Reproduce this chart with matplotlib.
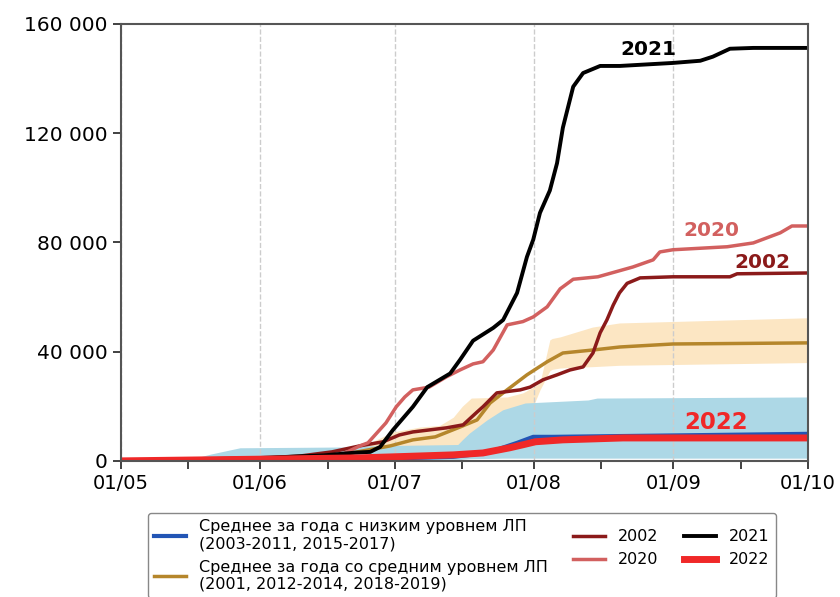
import matplotlib
matplotlib.use('Agg')
import matplotlib.pyplot as plt
from matplotlib.ticker import FuncFormatter

# days counted from 01/05
d2021 = [0, 30, 45, 52, 55.5, 57.7, 60.6, 65, 68.2, 73.3, 75.5, 78.4, 82.9, 85.1, 88.2, 90.4,
         91.8, 93.3, 95.5, 97.1, 98.4, 100.7, 102.9, 106.7, 111.1, 122.9, 129, 131.8, 135.6, 140.8, 153]
v2021 = [0, 1000, 2000, 3000, 3300, 5100, 11400, 19800, 27000, 32000, 37000, 44000, 48700, 51600, 61500, 74700,
         81000, 90800, 99000, 109000, 122000, 137000, 142000, 144600, 144600, 145700, 146500, 148000, 150900, 151200, 151200]

d2020 = [0, 25, 40, 49, 53.2, 55, 59, 61.3, 63.2, 65, 68.6, 72.5, 75.5, 78.4, 80.6, 82.9, 86, 89.5,
         91.8, 94.9, 97.8, 100.7, 106.2, 114, 118.5, 120, 122.9, 135, 140.8, 146.8, 149.4, 153]
v2020 = [0, 500, 1500, 2200, 5500, 6600, 13900, 19800, 23400, 26000, 27000, 30800, 33300, 35500, 36300, 40600, 49800, 51000,
         52700, 56400, 63000, 66500, 67400, 71000, 73600, 76500, 77300, 78400, 79800, 83500, 86000, 86000]

d2002 = [0, 20, 30, 40, 47, 53.2, 58.4, 62, 65, 72.5, 76.2, 79.3, 80.6, 83.7, 88.9, 91.1, 94, 97.1, 100,
         102.9, 105.1, 106.7, 108.2, 109.6, 111, 112.7, 115.6, 122.9, 135.6, 137.2, 153]
v2002 = [0, 300, 800, 1800, 3300, 5500, 7000, 9500, 10600, 12100, 13200, 17900, 19800, 24900, 26000, 27000, 29700, 31500, 33300,
         34400, 39500, 46900, 51600, 57000, 61500, 65000, 67000, 67400, 67400, 68500, 68800]

d2022 = [0, 30, 53, 61, 74, 80.6, 86.6, 89.5, 92.3, 98.4, 111.8, 153]
v2022 = [0, 600, 1100, 1500, 2200, 2900, 4800, 5900, 7000, 7700, 8400, 8400]

# mean of low-fire years and its range
d_low = [0, 30, 53, 61, 74, 81.5, 88.2, 91.8, 96.3, 153]
v_low = [0, 300, 600, 900, 1500, 2900, 6600, 8800, 8800, 9900]
d_low_band = [0, 14, 20, 26.5, 51, 55, 75, 76, 77.6, 81.5, 85, 90, 104, 106, 153]
lo_low_band = [0, 0, 0, 0, 0, 0, 300, 600, 800, 900, 1000, 1000, 1000, 1000, 1000]
hi_low_band = [0, 0, 2500, 4800, 5100, 5500, 6000, 7700, 10200, 15000, 18700, 21200, 22300, 23000, 23400]

# mean of medium-fire years and its range
d_mid = [0, 20, 30, 40, 50, 55, 60, 65, 70, 75.5, 79.3, 82.2, 85.1, 90.4, 94.9, 98.4, 105.1, 111.1, 122.9, 153]
v_mid = [0, 200, 600, 1300, 2500, 4000, 5500, 7700, 8800, 12400, 15000, 21200, 24900, 31500, 36300, 39500, 40600, 41700, 42800, 43200]
d_mid_band = [0, 40, 45, 50, 53, 60.6, 66.6, 71, 74, 76, 78, 86, 89.5, 91.8, 93.3, 95.5, 96, 97.8, 100, 105, 111, 153]
lo_mid_band = [0, 0, 0, 0, 0, 500, 1000, 1500, 2000, 3000, 4000, 10000, 15000, 20000, 26000, 33000, 33500, 34000, 34200, 34500, 35000, 36000]
hi_mid_band = [0, 300, 1000, 3000, 4800, 10600, 12400, 13000, 16000, 20000, 23000, 23400, 24900, 27000, 28600, 44300, 44800, 45400, 46500, 49000, 50500, 52400]

month_days = [0, 31, 61, 92, 123, 153]
month_labels = ['01/05', '01/06', '01/07', '01/08', '01/09', '01/10']
mid_days = [15, 46, 76, 107, 138]

fig = plt.figure(figsize=(8.4, 5.97), dpi=100)
ax = fig.add_axes([0.144, 0.228, 0.818, 0.732])

ax.fill_between(d_mid_band, lo_mid_band, hi_mid_band, color='#f9c87a', alpha=0.45, lw=0)
ax.fill_between(d_low_band, lo_low_band, hi_low_band, color='#add8e6', lw=0)

ax.plot(d_low, v_low, color='#2255b5', lw=3,
        label='Среднее за года с низким уровнем ЛП\n(2003-2011, 2015-2017)')
ax.plot(d_mid, v_mid, color='#b5862b', lw=2.5,
        label='Среднее за года со средним уровнем ЛП\n(2001, 2012-2014, 2018-2019)')
ax.plot(d2002, v2002, color='#8b1a1a', lw=2.5, label='2002')
ax.plot(d2020, v2020, color='#d2605f', lw=2.5, label='2020')
ax.plot(d2021, v2021, color='black', lw=2.8, label='2021')
ax.plot(d2022, v2022, color='#f02828', lw=5, label='2022')

ax.text(117.5, 147000, '2021', color='black', fontsize=14.5, fontweight='bold', ha='center', va='bottom')
ax.text(131.5, 81000, '2020', color='#d2605f', fontsize=14.5, fontweight='bold', ha='center', va='bottom')
ax.text(142.8, 69300, '2002', color='#8b1a1a', fontsize=14.5, fontweight='bold', ha='center', va='bottom')
ax.text(132.5, 10000, '2022', color='#f02828', fontsize=16.5, fontweight='bold', ha='center', va='bottom')

ax.set_xlim(0, 153)
ax.set_ylim(0, 160000)
ax.set_xticks(month_days)
ax.set_xticklabels(month_labels)
ax.set_xticks(mid_days, minor=True)
ax.set_yticks([0, 40000, 80000, 120000, 160000])
ax.yaxis.set_major_formatter(FuncFormatter(lambda v, p: '{:,.0f}'.format(v).replace(',', ' ')))
ax.tick_params(axis='both', which='major', labelsize=14, length=6, width=1.3, colors='#333333')
ax.tick_params(axis='y', labelsize=14.5)
ax.tick_params(axis='x', which='minor', length=6, width=1.3, colors='#333333')
ax.tick_params(labelcolor='black')
ax.grid(axis='x', which='major', ls='--', color='#cccccc', lw=1)
for s in ax.spines.values():
    s.set_color('#555555')
    s.set_linewidth(1.5)

fig.legend(loc='upper left', bbox_to_anchor=(0.176, 0.141), borderaxespad=0, ncol=3, fontsize=11.5,
           columnspacing=1.6, edgecolor='#888888', framealpha=1)

fig.savefig('out.png', dpi=100)
